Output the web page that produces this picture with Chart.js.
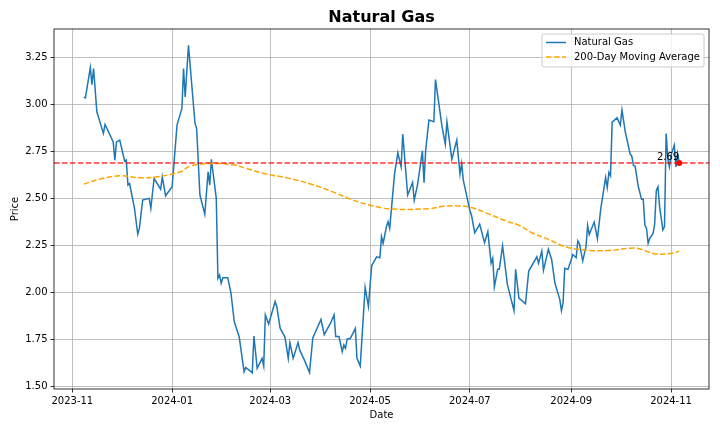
<!DOCTYPE html>
<html>
<head>
<meta charset="utf-8">
<script src="https://cdn.jsdelivr.net/npm/chart.js@4.4.1/dist/chart.umd.min.js"></script>
<style>
  body { margin: 0; background: #fff; }
  #grafico { display: block; }
</style>
</head>
<body>
<canvas id="grafico" width="720" height="432"></canvas>
<script>
// Preço diário do gás natural
const datas = [
  "2023-11-08","2023-11-09","2023-11-12","2023-11-13","2023-11-14","2023-11-16","2023-11-20","2023-11-21",
  "2023-11-26","2023-11-27","2023-11-28","2023-11-30","2023-12-03","2023-12-04","2023-12-05","2023-12-06",
  "2023-12-09","2023-12-11","2023-12-12","2023-12-14","2023-12-18","2023-12-19","2023-12-21","2023-12-25",
  "2023-12-26","2023-12-28","2024-01-01","2024-01-04","2024-01-07","2024-01-08","2024-01-09","2024-01-11",
  "2024-01-15","2024-01-16","2024-01-18","2024-01-21","2024-01-23","2024-01-24","2024-01-25","2024-01-28",
  "2024-01-29","2024-01-30","2024-01-31","2024-02-01","2024-02-04","2024-02-06","2024-02-08","2024-02-11",
  "2024-02-14","2024-02-15","2024-02-19","2024-02-20","2024-02-22","2024-02-25","2024-02-26","2024-02-27",
  "2024-02-29","2024-03-04","2024-03-05","2024-03-07","2024-03-10","2024-03-12","2024-03-13","2024-03-15",
  "2024-03-18","2024-03-19","2024-03-22","2024-03-25","2024-03-27","2024-04-01","2024-04-03","2024-04-07",
  "2024-04-09","2024-04-10","2024-04-12","2024-04-14","2024-04-15","2024-04-16","2024-04-17","2024-04-19",
  "2024-04-22","2024-04-23","2024-04-25","2024-04-28","2024-04-30","2024-05-02","2024-05-05","2024-05-07",
  "2024-05-08","2024-05-09","2024-05-11","2024-05-12","2024-05-13","2024-05-16","2024-05-18","2024-05-20",
  "2024-05-21","2024-05-24","2024-05-27","2024-05-28","2024-05-30","2024-06-02","2024-06-03","2024-06-04",
  "2024-06-06","2024-06-09","2024-06-10","2024-06-14","2024-06-16","2024-06-17","2024-06-20","2024-06-23",
  "2024-06-25","2024-06-26","2024-06-27","2024-07-01","2024-07-02","2024-07-04","2024-07-07","2024-07-10",
  "2024-07-12","2024-07-14","2024-07-15","2024-07-16","2024-07-18","2024-07-19","2024-07-21","2024-07-24",
  "2024-07-28","2024-07-29","2024-07-31","2024-08-04","2024-08-06","2024-08-11","2024-08-12","2024-08-14",
  "2024-08-15","2024-08-18","2024-08-20","2024-08-22","2024-08-25","2024-08-26","2024-08-27","2024-08-28",
  "2024-08-30","2024-09-02","2024-09-04","2024-09-05","2024-09-06","2024-09-08","2024-09-10","2024-09-11",
  "2024-09-12","2024-09-15","2024-09-17","2024-09-19","2024-09-22","2024-09-23","2024-09-24","2024-09-25",
  "2024-09-26","2024-09-29","2024-10-01","2024-10-02","2024-10-04","2024-10-07","2024-10-08","2024-10-09",
  "2024-10-10","2024-10-12","2024-10-14","2024-10-15","2024-10-16","2024-10-17","2024-10-18","2024-10-19",
  "2024-10-21","2024-10-22","2024-10-23","2024-10-24","2024-10-25","2024-10-27","2024-10-28","2024-10-29",
  "2024-10-30","2024-10-31","2024-11-01","2024-11-03","2024-11-04","2024-11-05","2024-11-06"
];
const precos = [
  3.04, 3.036, 3.198, 3.107, 3.193, 2.962, 2.847, 2.895,
  2.802, 2.705, 2.802, 2.811, 2.699, 2.705, 2.572, 2.58,
  2.448, 2.311, 2.341, 2.492, 2.501, 2.448, 2.607, 2.55,
  2.616, 2.515, 2.563, 2.891, 2.98, 3.193, 3.041, 3.316,
  2.9, 2.873, 2.518, 2.417, 2.643, 2.572, 2.709, 2.501,
  2.075, 2.093, 2.049, 2.079, 2.079, 1.995, 1.844, 1.764,
  1.578, 1.601, 1.573, 1.768, 1.596, 1.649, 1.608, 1.88,
  1.832, 1.952, 1.926, 1.811, 1.761, 1.649, 1.733, 1.649,
  1.733, 1.694, 1.637, 1.573, 1.758, 1.856, 1.776, 1.839,
  1.88, 1.765, 1.765, 1.685, 1.721, 1.703, 1.751, 1.756,
  1.809, 1.649, 1.608, 2.027, 1.926, 2.142, 2.19, 2.185,
  2.297, 2.262, 2.35, 2.377, 2.341, 2.633, 2.744, 2.669,
  2.843, 2.519, 2.586, 2.492, 2.572, 2.754, 2.584, 2.758,
  2.918, 2.909, 3.134, 2.883, 2.79, 2.909, 2.709, 2.811,
  2.63, 2.687, 2.598, 2.438, 2.411, 2.318, 2.364, 2.265,
  2.324, 2.156, 2.182, 2.03, 2.123, 2.123, 2.249, 2.04,
  1.903, 2.123, 1.97, 1.94, 2.114, 2.19, 2.155, 2.22,
  2.118, 2.23, 2.176, 2.05, 1.962, 1.903, 1.946, 2.129,
  2.123, 2.202, 2.185, 2.275, 2.26, 2.168, 2.244, 2.356,
  2.309, 2.375, 2.286, 2.444, 2.612, 2.559, 2.639, 2.621,
  2.907, 2.93, 2.891, 2.971, 2.857, 2.737, 2.726, 2.678,
  2.673, 2.563, 2.496, 2.496, 2.359, 2.341, 2.261, 2.288,
  2.314, 2.367, 2.544, 2.563, 2.457, 2.333, 2.351, 2.847,
  2.714, 2.669, 2.731, 2.785, 2.669, 2.74, 2.69
];

// Média móvel de 200 dias
const datasMedia = [
  "2023-11-08","2023-11-18","2023-11-30","2023-12-13","2023-12-23","2024-01-06","2024-01-12","2024-01-24",
  "2024-02-07","2024-02-15","2024-02-27","2024-03-12","2024-03-27","2024-04-09","2024-04-19","2024-05-01",
  "2024-05-15","2024-06-07","2024-06-15","2024-06-25","2024-07-02","2024-07-12","2024-07-23","2024-07-31",
  "2024-08-08","2024-08-18","2024-08-28","2024-09-09","2024-09-23","2024-10-07","2024-10-13","2024-10-21",
  "2024-10-30","2024-11-06"
];
const valoresMedia = [
  2.577, 2.604, 2.621, 2.611, 2.616, 2.643, 2.673, 2.687,
  2.68, 2.662, 2.632, 2.609, 2.574, 2.533, 2.497, 2.465,
  2.444, 2.447, 2.459, 2.461, 2.452, 2.42, 2.381, 2.358,
  2.318, 2.283, 2.244, 2.226, 2.223, 2.236, 2.232, 2.208,
  2.206, 2.22
];

// Marcas do eixo
const mesesEixo = ["2023-11-01","2024-01-01","2024-03-01","2024-05-01","2024-07-01","2024-09-01","2024-11-01"];
const ticksPreco = [1.50, 1.75, 2.00, 2.25, 2.50, 2.75, 3.00, 3.25];

const ts = (s) => Date.parse(s + "T00:00:00Z");

const serie = datas.map((d, i) => ({ x: ts(d), y: precos[i] }));
const serieMedia = datasMedia.map((d, i) => ({ x: ts(d), y: valoresMedia[i] }));
const ultimo = serie[serie.length - 1];

// margens de 5% como no matplotlib
const xMin = serie[0].x, xMax = ultimo.x;
const xPad = (xMax - xMin) * 0.05;
const yMin = Math.min(...precos), yMax = Math.max(...precos);
const yPad = (yMax - yMin) * 0.05;

Chart.defaults.font.family = "'DejaVu Sans', sans-serif";
Chart.defaults.font.size = 10;
Chart.defaults.color = "#000";

// Linha horizontal, moldura, anotação e legenda
const extras = {
  id: "extras",
  afterDatasetsDraw(chart) {
    const { ctx, chartArea: a, scales } = chart;
    const yRef = scales.y.getPixelForValue(ultimo.y);
    ctx.save();
    ctx.strokeStyle = "rgba(255,0,0,0.8)";
    ctx.lineWidth = 1.5;
    ctx.setLineDash([5.55, 2.4]);
    ctx.beginPath();
    ctx.moveTo(a.left, yRef);
    ctx.lineTo(a.right, yRef);
    ctx.stroke();
    ctx.restore();
  },
  afterDraw(chart) {
    const { ctx, chartArea: a, scales } = chart;
    ctx.save();
    // moldura
    ctx.strokeStyle = "#000";
    ctx.lineWidth = 0.8;
    ctx.strokeRect(a.left, a.top, a.right - a.left, a.bottom - a.top);

    // ponto e anotação do último preço
    const px = scales.x.getPixelForValue(ultimo.x);
    const py = scales.y.getPixelForValue(ultimo.y);
    ctx.fillStyle = "red";
    ctx.beginPath();
    ctx.arc(px, py, 3, 0, Math.PI * 2);
    ctx.fill();
    ctx.fillStyle = "#000";
    ctx.font = "10px 'DejaVu Sans'";
    ctx.textAlign = "right";
    ctx.textBaseline = "bottom";
    ctx.fillText(ultimo.y.toFixed(2), px, py);

    // legenda
    const lx = a.right - 167, ly = a.top + 5, lw = 162, lh = 33;
    ctx.fillStyle = "rgba(255,255,255,0.8)";
    ctx.strokeStyle = "#cccccc";
    ctx.lineWidth = 1;
    ctx.beginPath();
    ctx.roundRect(lx, ly, lw, lh, 2);
    ctx.fill();
    ctx.stroke();
    const itens = [
      { texto: "Natural Gas", cor: "#1f77b4", dash: [] },
      { texto: "200-Day Moving Average", cor: "orange", dash: [5.55, 2.4] }
    ];
    itens.forEach((it, i) => {
      const yy = ly + 8.5 + i * 14.5;
      ctx.strokeStyle = it.cor;
      ctx.lineWidth = 1.5;
      ctx.setLineDash(it.dash);
      ctx.beginPath();
      ctx.moveTo(lx + 4, yy);
      ctx.lineTo(lx + 24, yy);
      ctx.stroke();
      ctx.setLineDash([]);
      ctx.fillStyle = "#000";
      ctx.textAlign = "left";
      ctx.textBaseline = "middle";
      ctx.fillText(it.texto, lx + 32, yy);
    });
    ctx.restore();
  }
};

function criarGrafico() {
  const ctx = document.getElementById("grafico").getContext("2d");
  new Chart(ctx, {
    type: "line",
    data: {
      datasets: [
        {
          label: "Natural Gas",
          data: serie,
          borderColor: "#1f77b4",
          borderWidth: 1.5,
          pointRadius: 0,
          tension: 0,
          order: 2
        },
        {
          label: "200-Day Moving Average",
          data: serieMedia,
          borderColor: "orange",
          borderWidth: 1.5,
          borderDash: [5.55, 2.4],
          pointRadius: 0,
          tension: 0.4,
          order: 1
        }
      ]
    },
    options: {
      responsive: false,
      animation: false,
      layout: { padding: { left: 0, right: 11, top: 0, bottom: 0 } },
      plugins: {
        legend: { display: false },
        tooltip: { enabled: false },
        title: {
          display: true,
          text: "Natural Gas",
          fullSize: false,
          font: { size: 16, weight: "bold" },
          padding: { top: 8.5, bottom: 1.3 }
        }
      },
      scales: {
        x: {
          type: "linear",
          min: xMin - xPad,
          max: xMax + xPad,
          afterBuildTicks: (s) => { s.ticks = mesesEixo.map(m => ({ value: ts(m) })); },
          afterFit: (s) => { s.height = 43; },
          ticks: {
            autoSkip: false,
            maxRotation: 0,
            padding: 3,
            callback: (v) => {
              const d = new Date(v);
              return d.getUTCFullYear() + "-" + String(d.getUTCMonth() + 1).padStart(2, "0");
            }
          },
          grid: { color: "#b0b0b0", lineWidth: 0.8, tickColor: "#000", tickLength: 3.5 },
          border: { display: false },
          title: { display: true, text: "Date", padding: { top: 0, bottom: 11 } }
        },
        y: {
          min: yMin - yPad,
          max: yMax + yPad,
          afterBuildTicks: (s) => { s.ticks = ticksPreco.map(v => ({ value: v })); },
          afterFit: (s) => { s.width = 54; },
          ticks: { padding: 3, callback: (v) => v.toFixed(2) },
          grid: { color: "#b0b0b0", lineWidth: 0.8, tickColor: "#000", tickLength: 3.5 },
          border: { display: false },
          title: { display: true, text: "Price", padding: { top: 9, bottom: 0 } }
        }
      }
    },
    plugins: [extras]
  });
}

document.addEventListener("DOMContentLoaded", criarGrafico);
</script>
</body>
</html>
